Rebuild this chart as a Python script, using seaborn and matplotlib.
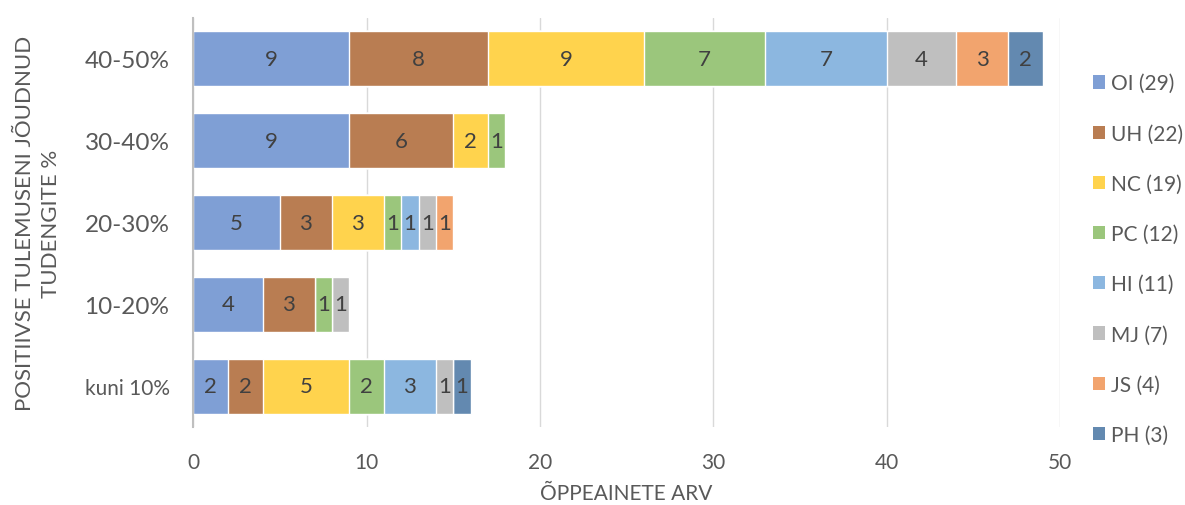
import numpy as np
import pandas as pd
import matplotlib
matplotlib.use("Agg")
import matplotlib.pyplot as plt
from matplotlib.patches import Patch
import seaborn as sns

# categories (top to bottom) and counts per subject
groups = ["40-50%", "30-40%", "20-30%", "10-20%", "kuni 10%"]
subjects = ["OI", "UH", "NC", "PC", "HI", "MJ", "JS", "PH"]
legend_labels = ["OI (29)", "UH (22)", "NC (19)", "PC (12)", "HI (11)", "MJ (7)", "JS (4)", "PH (3)"]
OI = [9, 9, 5, 4, 2]
UH = [8, 6, 3, 3, 2]
NC = [9, 2, 3, 0, 5]
PC = [7, 1, 1, 1, 2]
HI = [7, 0, 1, 0, 3]
MJ = [4, 0, 1, 1, 1]
JS = [3, 0, 1, 0, 0]
PH = [2, 0, 0, 0, 1]
colors = ["#7F9FD5", "#B97D52", "#FFD34D", "#9BC67C", "#8CB7E0", "#BFBFBF", "#F2A46E", "#6389B0"]

sns.set_theme(style="white")
plt.rcParams["font.family"] = ["Lato", "DejaVu Sans"]

df = pd.DataFrame(dict(zip(subjects, [OI, UH, NC, PC, HI, MJ, JS, PH])), index=groups)
cum = df.cumsum(axis=1)
df_cum = cum.reset_index().rename(columns={"index": "group"})

fig = plt.figure(figsize=(11.85, 5.06), dpi=100)
ax = fig.add_axes([0.163, 0.154, 0.7315, 0.8085])

# stacked bars: draw cumulative totals, widest first
for subj, col in reversed(list(zip(subjects, colors))):
    sns.barplot(data=df_cum, x=subj, y="group", order=groups, orient="h",
                color=col, width=0.67, saturation=1, ax=ax, zorder=2)

# segment labels
for i, g in enumerate(groups):
    left = 0
    for subj in subjects:
        v = df.loc[g, subj]
        if v > 0:
            ax.text(left + v / 2, i, str(v), ha="center", va="center",
                    fontsize=16, color="#404040", zorder=3)
        left += v

ax.set_xlim(0, 50)
ax.set_ylim(4.5, -0.5)
ax.set_xticks(range(0, 51, 10))
ax.xaxis.grid(True, color="#D9D9D9", lw=1, zorder=0)
ax.set_axisbelow(True)
for s in ["top", "right", "bottom"]:
    ax.spines[s].set_visible(False)
ax.spines["left"].set_color("#BFBFBF")
ax.spines["left"].set_linewidth(1.5)
ax.tick_params(axis="both", length=0, colors="#595959")
ax.tick_params(axis="x", labelsize=15, pad=18)
ax.tick_params(axis="y", pad=17)
ax.set_yticks(range(len(groups)))
ax.set_yticklabels(groups, fontsize=17.5)
for lab in ax.get_yticklabels():
    if lab.get_text() == "kuni 10%":
        lab.set_fontsize(15)

ax.set_xlabel("ÕPPEAINETE ARV", fontsize=15, color="#595959", labelpad=8)
ax.set_ylabel("POSITIIVSE TULEMUSENI JÕUDNUD\nTUDENGITE %", fontsize=16,
              color="#595959", labelpad=17, linespacing=1.4)

handles = [Patch(facecolor=c, edgecolor="none") for c in colors]
fig.legend(handles, legend_labels, loc="center left", bbox_to_anchor=(0.922, 0.486),
           frameon=False, fontsize=15, labelcolor="#595959", handlelength=0.6,
           handleheight=0.6, handletextpad=0.3, labelspacing=1.45,
           borderaxespad=0, borderpad=0)

fig.savefig("out.png", dpi=100)
